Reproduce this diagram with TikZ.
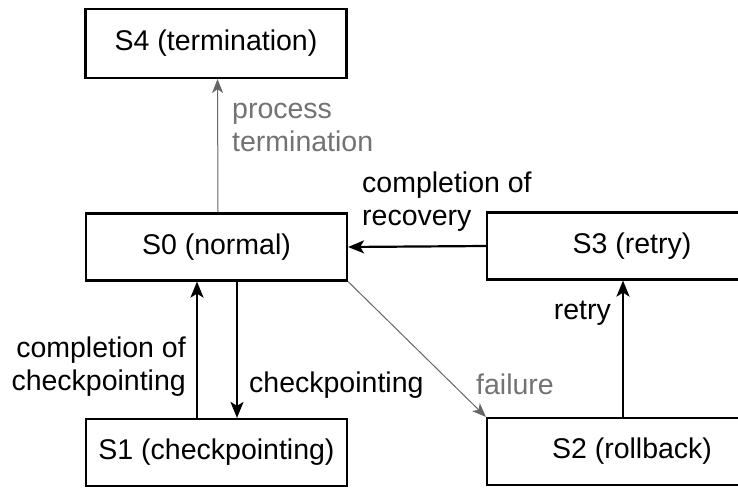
\documentclass[tikz,border=0pt]{standalone}
\usepackage{fontspec}
\setmainfont{Liberation Sans}
\usetikzlibrary{arrows.meta}
\begin{document}
\begin{tikzpicture}[x=1pt,y=-1pt,
  every node/.style={font=\fontsize{28.5}{33}\selectfont, inner sep=0pt},
  state/.style={draw, line width=2.2pt, minimum width=261pt, minimum height=67pt},
  wstate/.style={draw, line width=2.2pt, minimum width=290pt, minimum height=67pt},
  arr/.style={line width=2.2pt, -{Stealth[length=16pt,width=13pt,inset=4pt]}},
  garr/.style={line width=1pt, draw=black!60, -{Stealth[length=14pt,width=11pt,inset=4pt]}},
  glab/.style={text=black!55, align=left}]
\fill[white] (0,0) rectangle (738,487);
\clip (0,0) rectangle (738,487);
\node[state, minimum height=69pt] (S4) at (216,43.5) {S4 (termination)};
\node[state] (S0) at (216.5,247) {S0 (normal)};
\node[state] (S1) at (216.5,452.5) {S1 (checkpointing)};
\node[wstate] (S3) at (632,246) {S3 (retry)};
\node[wstate] (S2) at (632,451.5) {S2 (rollback)};

\draw[garr] ([xshift=1.5pt]S0.north) -- ([xshift=1.5pt]S4.south);
\draw[arr] (S3.west) -- (S0.east);
\draw[arr] ([xshift=-19.5pt]S1.north) -- ([xshift=-19.5pt]S0.south);
\draw[arr] ([xshift=20.5pt]S0.south) -- ([xshift=20.5pt]S1.north);
\draw[arr] ([xshift=-9pt]S2.north) -- ([xshift=-9pt]S3.south);
\draw[garr] (S0.south east) -- (S2.north west);

\node[glab, anchor=west] (lpt) at (232,127) {process\\termination};
\node[align=left, anchor=west] (lcr) at (362,202) {completion of\\recovery};
\node[align=right, anchor=east] (lcc) at (186,367) {completion of\\checkpointing};
\node[anchor=west] (lck) at (249,385) {checkpointing};
\node[anchor=east] (lre) at (611,313) {retry};
\node[glab, anchor=west] (lfa) at (476,384) {failure};
\end{tikzpicture}
\end{document}
